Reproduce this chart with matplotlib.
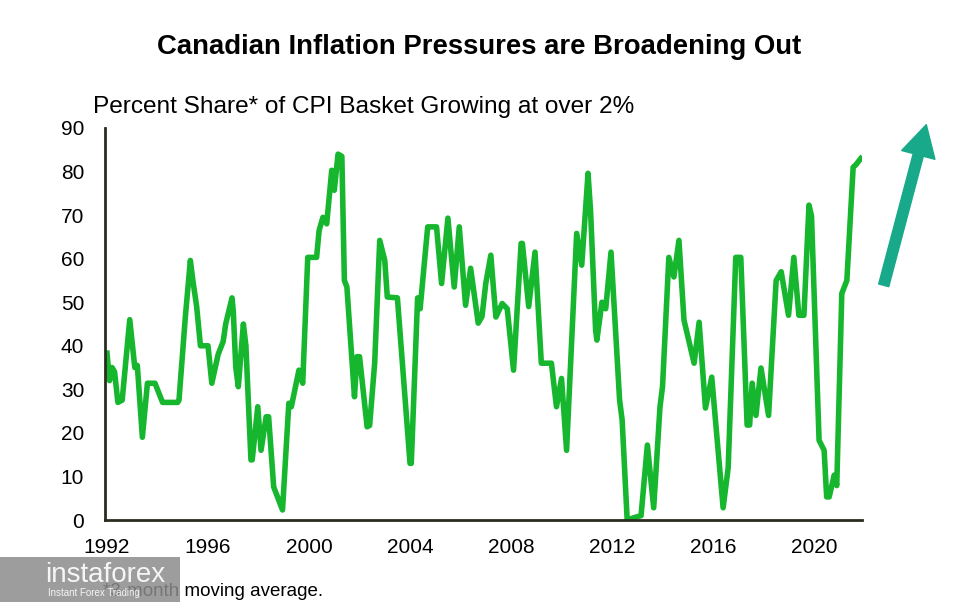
import numpy as np
import matplotlib.pyplot as plt
from matplotlib.patches import FancyArrowPatch

plt.rcParams['font.family'] = ['Liberation Sans', 'DejaVu Sans']

# decimal years and percent share
years = [
    1992.0, 1992.1, 1992.2, 1992.3, 1992.43, 1992.6, 1992.9, 1993.1, 1993.2, 1993.4,
    1993.6, 1993.9, 1994.2, 1994.8, 1994.85, 1995.1, 1995.3, 1995.4, 1995.55, 1995.7,
    1996.0, 1996.15, 1996.4, 1996.6, 1996.7, 1996.95, 1997.0, 1997.1, 1997.2, 1997.4,
    1997.5, 1997.7, 1997.75, 1997.97, 1998.1, 1998.3, 1998.4, 1998.6, 1998.95, 1999.2,
    1999.3, 1999.6, 1999.75, 1999.95, 2000.3, 2000.4, 2000.55, 2000.7, 2000.9, 2001.0,
    2001.15, 2001.3, 2001.4, 2001.5, 2001.8, 2001.9, 2002.0, 2002.3, 2002.4, 2002.6,
    2002.8, 2003.0, 2003.1, 2003.5, 2004.0, 2004.05, 2004.3, 2004.4, 2004.7, 2005.05,
    2005.25, 2005.5, 2005.75, 2005.95, 2006.2, 2006.4, 2006.7, 2006.85, 2007.0, 2007.2,
    2007.3, 2007.4, 2007.65, 2007.85, 2008.1, 2008.4, 2008.45, 2008.7, 2008.95, 2009.2,
    2009.6, 2009.8, 2010.0, 2010.2, 2010.6, 2010.8, 2011.05, 2011.15, 2011.35, 2011.4,
    2011.6, 2011.75, 2011.96, 2012.3, 2012.4, 2012.6, 2012.85, 2013.15, 2013.4, 2013.65,
    2013.9, 2014.0, 2014.25, 2014.45, 2014.65, 2014.85, 2015.25, 2015.45, 2015.7, 2015.95,
    2016.05, 2016.4, 2016.6, 2016.9, 2017.1, 2017.35, 2017.45, 2017.55, 2017.7, 2017.9,
    2018.2, 2018.5, 2018.7, 2018.99, 2019.2, 2019.4, 2019.6, 2019.8, 2019.9, 2020.2,
    2020.4, 2020.5, 2020.6, 2020.8, 2020.9, 2021.1, 2021.3, 2021.55, 2021.65, 2021.85,
]
share = [
    38.3, 32.0, 35.0, 34.0, 27.0, 27.5, 46.0, 35.0, 35.5, 19.0,
    31.4, 31.4, 27.0, 27.0, 27.5, 46.5, 59.6, 55.0, 49.0, 40.0,
    40.0, 31.4, 38.0, 41.0, 45.0, 51.0, 48.0, 35.0, 30.6, 45.0,
    40.0, 13.8, 13.8, 26.0, 16.0, 23.7, 23.7, 7.6, 2.3, 26.8,
    26.0, 34.4, 31.4, 60.3, 60.3, 66.5, 69.5, 68.0, 80.3, 75.7,
    84.0, 83.5, 55.0, 53.5, 28.3, 37.5, 37.5, 21.4, 21.7, 36.0,
    64.2, 59.6, 51.2, 51.0, 13.0, 13.0, 51.0, 48.5, 67.3, 67.3,
    54.3, 69.3, 53.5, 67.3, 49.3, 57.8, 45.2, 46.7, 54.3, 60.8,
    53.5, 46.6, 49.7, 48.5, 34.4, 63.5, 63.5, 49.0, 61.5, 36.0,
    36.0, 26.0, 32.5, 16.0, 65.8, 58.5, 79.6, 71.0, 43.6, 41.3,
    50.0, 48.5, 61.5, 27.5, 23.0, 0.0, 0.5, 1.0, 17.2, 2.8,
    26.0, 30.6, 60.3, 55.8, 64.2, 45.9, 36.0, 45.4, 25.7, 32.8,
    26.0, 2.8, 12.0, 60.3, 60.3, 21.8, 21.8, 31.4, 24.0, 34.9,
    24.0, 55.0, 57.0, 47.0, 60.3, 47.0, 47.0, 72.3, 69.8, 18.3,
    16.0, 5.3, 5.3, 10.3, 7.9, 52.0, 55.0, 81.0, 81.5, 83.0,
]

xticks = [1992, 1996, 2000, 2004, 2008, 2012, 2016, 2020]
yticks = [0, 10, 20, 30, 40, 50, 60, 70, 80, 90]

W, H = 957, 602
fig = plt.figure(figsize=(W / 100, H / 100), dpi=100)
ax = fig.add_axes([105 / W, 1 - 520 / H, 757 / W, 392 / H])

ax.plot(years, share, color='#16b62e', linewidth=4, solid_joinstyle='round')

ax.set_xlim(1991.92, 2021.9)
ax.set_ylim(0, 90)
ax.set_xticks(xticks)
ax.set_yticks(yticks)
ax.tick_params(length=0, labelsize=15)
ax.tick_params(axis='y', pad=15)
ax.tick_params(axis='x', pad=13)
for s in ['top', 'right']:
    ax.spines[s].set_visible(False)
for s in ['left', 'bottom']:
    ax.spines[s].set_color('#2b2b1f')
    ax.spines[s].set_linewidth(2)

fig.text(479 / W, 1 - 47 / H, "Canadian Inflation Pressures are Broadening Out",
         ha='center', va='center', fontsize=19.8, fontweight='bold')
fig.text(93 / W, 1 - 107 / H, "Percent Share* of CPI Basket Growing at over 2%",
         ha='left', va='center', fontsize=17.6)
fig.text(103 / W, 1 - 591 / H, "*3-month moving average.",
         ha='left', va='center', fontsize=13.5)

# trend arrow
arr = FancyArrowPatch((883 / W, 1 - 288 / H), (927 / W, 1 - 122 / H),
                      transform=fig.transFigure,
                      arrowstyle='simple,head_width=1.65,head_length=1.5,tail_width=0.5',
                      mutation_scale=15, color='#17a98a', capstyle='round')
fig.add_artist(arr)

# watermark box
fig.add_artist(plt.Rectangle((0, 0), 180 / W, 45 / H, transform=fig.transFigure,
                             facecolor='#8c8c8c', alpha=0.85, zorder=5))
fig.text(45 / W, 1 - 575 / H, "instaforex", color='white', fontsize=20,
         ha='left', va='center', alpha=0.9, zorder=6)
fig.text(48 / W, 1 - 593 / H, "Instant Forex Trading", color='white', fontsize=7,
         ha='left', va='center', alpha=0.9, zorder=6)

fig.savefig("out.png", dpi=100)
